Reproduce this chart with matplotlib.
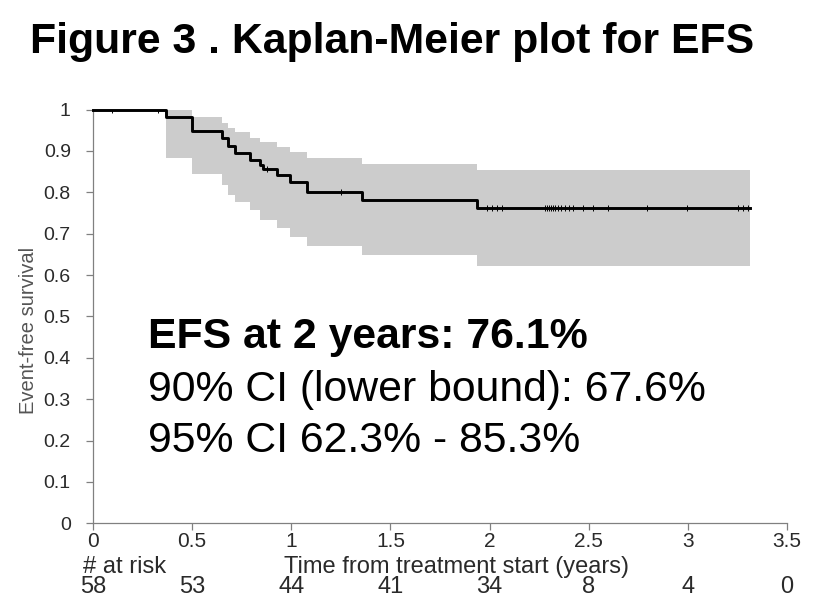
import matplotlib
matplotlib.use("Agg")
import matplotlib.pyplot as plt
import numpy as np

plt.rcParams['font.family'] = ['Liberation Sans', 'DejaVu Sans']

# Kaplan-Meier step curve
km_time = [0, 0.368, 0.498, 0.652, 0.682, 0.716, 0.792, 0.840, 0.859, 0.926, 0.993, 1.078, 1.355, 1.935, 3.313]
km_surv = [1.0, 0.983, 0.948, 0.930, 0.912, 0.895, 0.878, 0.866, 0.856, 0.842, 0.826, 0.801, 0.781, 0.761, 0.761]

# 95% confidence band (starts at first event)
ci_time = [0.368, 0.498, 0.652, 0.682, 0.716, 0.792, 0.840, 0.859, 0.926, 0.993, 1.078, 1.355, 1.935, 3.313]
ci_upper = [0.998, 0.983, 0.967, 0.956, 0.946, 0.930, 0.922, 0.922, 0.910, 0.898, 0.884, 0.868, 0.853, 0.853]
ci_lower = [0.884, 0.844, 0.818, 0.793, 0.777, 0.757, 0.733, 0.733, 0.713, 0.693, 0.671, 0.648, 0.623, 0.623]

# censored observations
cens_time = [0.094, 0.33, 0.876, 1.252, 1.985, 2.011, 2.036, 2.061, 2.28, 2.29, 2.30, 2.31,
             2.32, 2.33, 2.345, 2.36, 2.38, 2.40, 2.42, 2.473, 2.524, 2.599, 2.793, 2.994,
             3.254, 3.280, 3.305]

risk_time = [0, 0.5, 1, 1.5, 2, 2.5, 3, 3.5]
at_risk = [58, 53, 44, 41, 34, 8, 4, 0]

xticks = [0, 0.5, 1, 1.5, 2, 2.5, 3, 3.5]
xticklabels = ['0', '0.5', '1', '1.5', '2', '2.5', '3', '3.5']
yticks = [0, 0.1, 0.2, 0.3, 0.4, 0.5, 0.6, 0.7, 0.8, 0.9, 1]
yticklabels = ['0', '0.1', '0.2', '0.3', '0.4', '0.5', '0.6', '0.7', '0.8', '0.9', '1']

W, H = 821, 614
fig = plt.figure(figsize=(W / 100, H / 100), dpi=100)
ax = fig.add_axes([93 / W, 1 - 523.3 / H, (787 - 93) / W, (523.3 - 109.5) / H])

ax.fill_between(ci_time, ci_lower, ci_upper, step='post', color='#cccccc', linewidth=0)
ax.step(km_time, km_surv, where='post', color='black', lw=2.1, clip_on=False, zorder=3)

# censor tick marks sit on the curve
idx = np.searchsorted(km_time, cens_time, side='right') - 1
cens_surv = np.array(km_surv)[idx]
ax.plot(cens_time, cens_surv, ls='none', marker='|', ms=5, mew=0.7, color='black', zorder=4)

ax.set_xlim(0, 3.5)
ax.set_ylim(0, 1)
ax.set_xticks(xticks)
ax.set_xticklabels(xticklabels)
ax.set_yticks(yticks)
ax.set_yticklabels(yticklabels)
for s in ['top', 'right']:
    ax.spines[s].set_visible(False)
for s in ['left', 'bottom']:
    ax.spines[s].set_color('#808080')
    ax.spines[s].set_linewidth(0.9)
ax.tick_params(axis='both', colors='#808080', length=5, width=0.9)
ax.tick_params(axis='x', labelsize=15, labelcolor='#2a2a2a', pad=1)
ax.tick_params(axis='y', labelsize=14, labelcolor='#2a2a2a', pad=11)

fig.text(28 / W, 1 - 330 / H, 'Event-free survival', fontsize=14.5, color='#555555',
         rotation=90, ha='center', va='center')

# number at risk row
xt = ax.get_xaxis_transform()
ax.text(-0.05, -0.105, '# at risk', transform=xt, fontsize=17, color='#2a2a2a',
        ha='left', va='center')
ax.text(1.835, -0.105, 'Time from treatment start (years)', transform=xt, fontsize=17,
        color='#2a2a2a', ha='center', va='center')
for t, n in zip(risk_time, at_risk):
    ax.text(t, -0.154, str(n), transform=xt, fontsize=17, color='#2a2a2a',
            ha='center', va='center')

fig.text(30 / W, 1 - 53.3 / H, 'Figure 3 . Kaplan-Meier plot for EFS', fontsize=30.8,
         fontweight='bold', ha='left', va='baseline')

fig.text(148 / W, 1 - 348 / H, 'EFS at 2 years: 76.1%', fontsize=30.8, fontweight='bold',
         ha='left', va='baseline')
fig.text(148 / W, 1 - 401 / H, '90% CI (lower bound): 67.6%', fontsize=30.8,
         ha='left', va='baseline')
fig.text(148 / W, 1 - 452 / H, '95% CI 62.3% - 85.3%', fontsize=30.8,
         ha='left', va='baseline')

fig.savefig('out.png', dpi=100)
